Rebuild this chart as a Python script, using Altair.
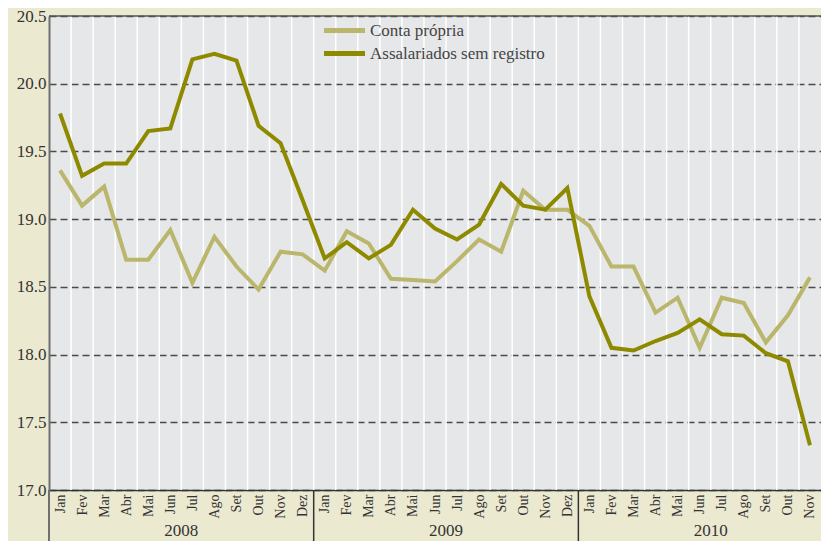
import json
import altair as alt
import pandas as pd

months = ["Jan", "Fev", "Mar", "Abr", "Mai", "Jun", "Jul", "Ago", "Set", "Out", "Nov", "Dez"]
years = ["2008", "2009", "2010"]
series_names = ["Conta própria", "Assalariados sem registro"]

conta_propria = [
    19.36, 19.10, 19.24, 18.70, 18.70, 18.92, 18.53, 18.87, 18.65, 18.48, 18.76, 18.74,
    18.62, 18.91, 18.82, 18.56, 18.55, 18.54, 18.69, 18.85, 18.76, 19.21, 19.07, 19.07,
    18.95, 18.65, 18.65, 18.31, 18.42, 18.05, 18.42, 18.38, 18.09, 18.29, 18.57,
]
assalariados = [
    19.78, 19.32, 19.41, 19.41, 19.65, 19.67, 20.18, 20.22, 20.17, 19.69, 19.56, 19.14,
    18.71, 18.83, 18.71, 18.81, 19.07, 18.93, 18.85, 18.96, 19.26, 19.10, 19.07, 19.23,
    18.43, 18.05, 18.03, 18.10, 18.16, 18.26, 18.15, 18.14, 18.01, 17.95, 17.33,
]
y_ticks = [17.0, 17.5, 18.0, 18.5, 19.0, 19.5, 20.0, 20.5]

n = len(conta_propria)
rows = []
for i in range(n):
    rows.append({"idx": i, "serie": series_names[0], "valor": conta_propria[i]})
    rows.append({"idx": i, "serie": series_names[1], "valor": assalariados[i]})
df = pd.DataFrame(rows)

bounds = pd.DataFrame({"b": [k - 0.5 for k in range(1, n)]})
year_df = pd.DataFrame({
    "ano": years,
    "mid": [12 * i + 5.5 for i in range(len(years))],
})
sep_df = pd.DataFrame({"b": [12 * i - 0.5 for i in range(1, len(years))]})
left_df = pd.DataFrame({"b": [-0.5]})

FONT = "Liberation Serif"
TXT = "#333333"

xscale = alt.Scale(domain=[-0.5, n - 0.5], nice=False, zero=False)
yscale = alt.Scale(domain=[17.0, 20.5], nice=False, zero=False)

label_expr = json.dumps(months) + "[datum.value % 12]"
x_axis = alt.Axis(values=list(range(n)), labelExpr=label_expr, labelAngle=270,
                  ticks=False, grid=False, domainColor="#333333", domainWidth=1.5,
                  labelFont=FONT, labelFontSize=14, labelColor=TXT, labelPadding=4,
                  labelOverlap=False, labelFlush=False, labelBound=False, title=None)


def X(field):
    return alt.X(field, scale=xscale, axis=x_axis)


vgrid = alt.Chart(bounds).mark_rule(color="white", strokeWidth=1.5).encode(x=X("b:Q"))

top_border = alt.Chart(pd.DataFrame({"v": [y_ticks[-1]]})).mark_rule(
    color="#555555", strokeWidth=1.5
).encode(y=alt.Y("v:Q", scale=yscale))

lines = alt.Chart(df).mark_line(strokeWidth=4).encode(
    x=X("idx:Q"),
    y=alt.Y("valor:Q", scale=yscale,
            axis=alt.Axis(values=y_ticks, format=".1f", grid=True, gridDash=[7, 4],
                          gridColor="#4a4a4a", gridWidth=1.3, domainColor="#707070",
                          domainWidth=2, ticks=False, labelPadding=3, labelFont=FONT,
                          labelFontSize=17, labelColor=TXT, title=None)),
    color=alt.Color("serie:N",
                    scale=alt.Scale(domain=series_names, range=["#BAB66C", "#8E8A00"]),
                    legend=alt.Legend(title=None, orient="none", legendX=286, legendY=5,
                                      symbolType="M-3,0H3", symbolSize=187,
                                      symbolStrokeWidth=5, labelFont=FONT,
                                      labelFontSize=17, labelColor="#444444",
                                      labelLimit=400, labelOffset=16, rowPadding=2)),
    detail="serie:N",
)

seps = alt.Chart(sep_df).mark_rule(color="#333333", strokeWidth=1.5).encode(
    x=X("b:Q"), y=alt.value(474), y2=alt.value(525)
)
left_ext = alt.Chart(left_df).mark_rule(color="#707070", strokeWidth=2).encode(
    x=X("b:Q"), y=alt.value(474), y2=alt.value(525)
)
year_text = alt.Chart(year_df).mark_text(
    font=FONT, fontSize=17, color=TXT, baseline="alphabetic", align="center"
).encode(x=X("mid:Q"), y=alt.value(520), text="ano:N")

chart = alt.layer(vgrid, top_border, lines, seps, left_ext, year_text).properties(
    width=772, height=474,
    padding={"left": 41, "top": 8, "right": 0, "bottom": 51},
    autosize=alt.AutoSizeParams(type="none"),
    background="#ECE9D1",
).configure_view(stroke=None, fill="#E6E7E9")

chart.save("out.html", embed_options={"renderer": "svg", "actions": False})
